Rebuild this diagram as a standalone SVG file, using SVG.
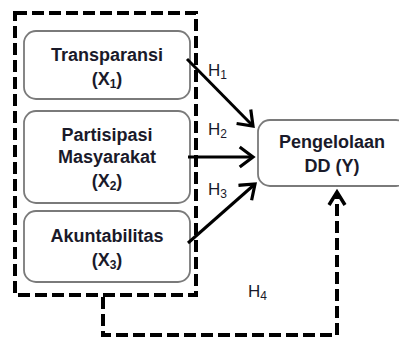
<svg xmlns="http://www.w3.org/2000/svg" width="399" height="339" viewBox="0 0 399 339">
<style>
.box{fill:#fff;stroke:#7a7a7a;stroke-width:1.8}
.t{font-family:"Liberation Sans",Arial,sans-serif;font-weight:bold;font-size:18px;fill:#1a1a2a;text-anchor:middle}
.h{font-family:"Liberation Sans",Arial,sans-serif;font-size:17px;fill:#1a1a2a}
.sub{font-size:12px}
.arr{stroke:#000;stroke-width:3;fill:none;marker-end:url(#ah)}
.dash{stroke:#000;stroke-width:4;fill:none;stroke-dasharray:12 5}
</style>
<defs>
<marker id="ah" markerUnits="userSpaceOnUse" markerWidth="30" markerHeight="30" refX="15" refY="15" orient="auto" viewBox="0 0 30 30">
<polyline points="3,6 15,15 3,24" fill="none" stroke="#000" stroke-width="3.2" stroke-linecap="square"/>
</marker>
</defs>
<rect x="0" y="0" width="399" height="339" fill="#fff"/>
<g id="group-box">
<rect class="dash" x="15" y="13" width="181" height="282"/>
</g>
<g id="x1">
<rect class="box" x="24" y="31" width="166" height="68" rx="12"/>
<text class="t" x="107" y="61">Transparansi</text>
<text class="t" x="107" y="85">(X<tspan class="sub" dy="3">1</tspan><tspan dy="-3">)</tspan></text>
</g>
<g id="x2">
<rect class="box" x="24" y="111" width="166" height="92" rx="12"/>
<text class="t" x="107" y="141">Partisipasi</text>
<text class="t" x="107" y="163">Masyarakat</text>
<text class="t" x="107" y="187">(X<tspan class="sub" dy="3">2</tspan><tspan dy="-3">)</tspan></text>
</g>
<g id="x3">
<rect class="box" x="24" y="211" width="166" height="71" rx="12"/>
<text class="t" x="107" y="242">Akuntabilitas</text>
<text class="t" x="107" y="266">(X<tspan class="sub" dy="3">3</tspan><tspan dy="-3">)</tspan></text>
</g>
<g id="y">
<rect class="box" x="258" y="120" width="150" height="66" rx="12"/>
<text class="t" x="332" y="148">Pengelolaan</text>
<text class="t" x="332" y="172">DD (Y)</text>
</g>
<g id="connectors">
<line class="arr" x1="187" y1="59" x2="253" y2="126"/>
<line class="arr" x1="188" y1="157" x2="253" y2="157"/>
<line class="arr" x1="188" y1="243" x2="255" y2="184"/>
<polyline class="dash" points="103,297 103,335 337,335 337,192"/>
<polyline points="329,205 337,192 345,205" fill="none" stroke="#000" stroke-width="3.5"/>
</g>
<g id="labels">
<text class="h" x="208" y="76">H<tspan class="sub" dy="3">1</tspan></text>
<text class="h" x="208" y="135">H<tspan class="sub" dy="3">2</tspan></text>
<text class="h" x="208" y="195">H<tspan class="sub" dy="3">3</tspan></text>
<text class="h" x="248" y="297">H<tspan class="sub" dy="3">4</tspan></text>
</g>
</svg>
